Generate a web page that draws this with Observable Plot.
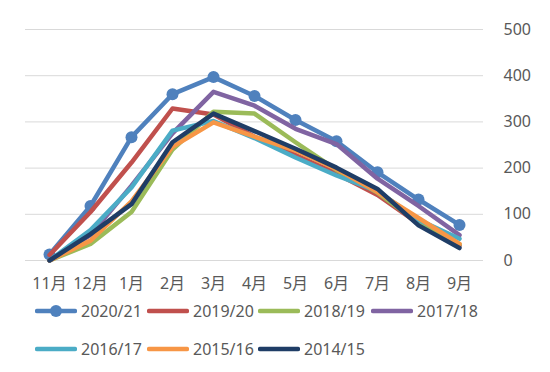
<!DOCTYPE html>
<html><head><meta charset="utf-8">
<script src="https://cdn.jsdelivr.net/npm/d3@7"></script>
<script src="https://cdn.jsdelivr.net/npm/@observablehq/plot@0.6"></script>
<style>
body{margin:0;background:#fff;font-family:"Noto Sans","Noto Sans CJK SC",sans-serif;}
#wrap{position:relative;width:550px;height:372px;}
.leg{position:absolute;display:flex;align-items:center;font-size:16px;color:#595959;height:20px;}
.leg svg{margin-right:4px;}
</style></head>
<body><div id="wrap"></div>
<script>
const months = ["11月","12月","1月","2月","3月","4月","5月","6月","7月","8月","9月"];
const seriesNames = ["2020/21","2019/20","2018/19","2017/18","2016/17","2015/16","2014/15"];
const colors = ["#4f81bd","#c0504d","#9bbb59","#8064a2","#4bacc6","#f79646","#1f3d66"];
const s2020_21 = [13, 118, 267, 360, 397, 356, 304, 258, 191, 132, 77];
const s2019_20 = [12, 105, 212, 329, 316, 268, 228, 188, 142, 80, 32];
const s2018_19 = [0, 36, 105, 240, 322, 318, 256, 196, 147, 82, 35];
const s2017_18 = [0, 55, 162, 275, 365, 335, 285, 252, 177, 118, 55];
const s2016_17 = [0, 66, 158, 281, 302, 265, 223, 184, 150, 88, 47];
const s2015_16 = [0, 43, 128, 246, 299, 268, 238, 198, 148, 92, 36];
const s2014_15 = [0, 57, 122, 256, 318, 280, 242, 201, 155, 76, 27];
const yTicks = [0, 100, 200, 300, 400, 500];

const allSeries = [s2020_21, s2019_20, s2018_19, s2017_18, s2016_17, s2015_16, s2014_15];
const rows = [];
allSeries.forEach((vals, i) => vals.forEach((v, j) => rows.push({series: seriesNames[i], month: months[j], value: v})));
const firstRows = rows.filter(d => d.series === seriesNames[0]);
const otherRows = rows.filter(d => d.series !== seriesNames[0]);

const lineOpts = {x: "month", y: "value", z: "series", stroke: "series", strokeWidth: 4.5, strokeLinejoin: "round", strokeLinecap: "round"};

const chart = Plot.plot({
  width: 550, height: 300,
  marginLeft: 25, marginRight: 67, marginTop: 29, marginBottom: 40,
  style: {fontFamily: '"Noto Sans","Noto Sans CJK SC",sans-serif', fontSize: "16px", color: "#595959", background: "#fff"},
  x: {type: "point", domain: months, padding: 0.5},
  y: {domain: [0, 500]},
  color: {domain: seriesNames, range: colors},
  marks: [
    Plot.gridY(yTicks, {stroke: "#d9d9d9", strokeOpacity: 1, strokeWidth: 1}),
    Plot.axisY({anchor: "right", ticks: yTicks, tickSize: 0, tickPadding: 20, label: null, fill: "#595959"}),
    Plot.axisX({tickSize: 0, tickPadding: 17, label: null, fill: "#595959"}),
    Plot.line(firstRows, lineOpts),
    Plot.dot(firstRows, {x: "month", y: "value", r: 6, fill: colors[0], stroke: "none"}),
    Plot.line(otherRows, lineOpts)
  ]
});
const wrap = document.getElementById("wrap");
wrap.appendChild(chart);

const legPos = [[35,301],[147,301],[258,301],[371,301],[35,339],[147,339],[258,339]];
seriesNames.forEach((name, i) => {
  const d = document.createElement("div");
  d.className = "leg";
  d.style.left = legPos[i][0] + "px";
  d.style.top = legPos[i][1] + "px";
  const marker = i === 0 ? `<circle cx="21" cy="10" r="6" fill="${colors[0]}"/>` : "";
  d.innerHTML = `<svg width="42" height="20"><line x1="2" y1="10" x2="40" y2="10" stroke="${colors[i]}" stroke-width="4.5" stroke-linecap="round"/>${marker}</svg><span>${name}</span>`;
  wrap.appendChild(d);
});
</script></body></html>
